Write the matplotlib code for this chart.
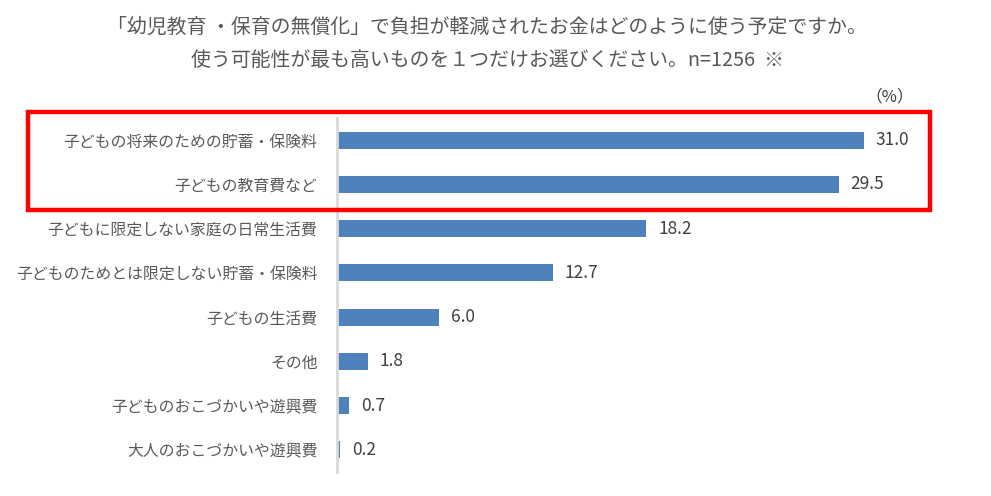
import numpy as np
import matplotlib.pyplot as plt
from matplotlib.patches import Rectangle

plt.rcParams['font.family'] = ['Noto Sans CJK JP', 'DejaVu Sans']

labels = ["子どもの将来のための貯蓄・保険料", "子どもの教育費など", "子どもに限定しない家庭の日常生活費",
          "子どものためとは限定しない貯蓄・保険料", "子どもの生活費", "その他",
          "子どものおこづかいや遊興費", "大人のおこづかいや遊興費"]
values = [31.0, 29.5, 18.2, 12.7, 6.0, 1.8, 0.7, 0.2]

W, H = 991, 496
fig = plt.figure(figsize=(W / 100, H / 100), dpi=100)

# axes placed in pixel terms: left 337, top 118, bottom 472
left, right, top, bottom = 337, 932, 118, 472
ax = fig.add_axes([left / W, 1 - bottom / H, (right - left) / W, (bottom - top) / H])

y = np.arange(len(labels))
ax.barh(y, values, height=0.38, color='#4F81BD')
ax.set_ylim(len(labels) - 0.5, -0.5)
ax.set_xlim(0, (right - left) / 17.0)

for yi, v in zip(y, values):
    ax.text(v + 0.7, yi, f"{v:.1f}", va='center', ha='left', fontsize=12.5, color='#404040')

ax.set_yticks(y)
ax.set_yticklabels(labels, fontsize=11.4, color='#595959')
ax.tick_params(axis='y', length=0, pad=14)
ax.set_xticks([])
for s in ['top', 'right', 'bottom']:
    ax.spines[s].set_visible(False)
ax.spines['left'].set_color('#D9D9D9')
ax.spines['left'].set_linewidth(2)

fig.text(487 / W, 1 - 27 / H, "「幼児教育 ・保育の無償化」で負担が軽減されたお金はどのように使う予定ですか。",
         ha='center', va='center', fontsize=14.3, color='#595959')
fig.text(487 / W, 1 - 60 / H, "使う可能性が最も高いものを１つだけお選びください。n=1256  ※",
         ha='center', va='center', fontsize=14.3, color='#595959')
fig.text(890 / W, 1 - 97 / H, "（%）", ha='center', va='center', fontsize=12, color='#404040')

# red highlight box
fig.patches.append(Rectangle((28 / W, 1 - 210 / H), (930 - 28) / W, (210 - 112) / H,
                             transform=fig.transFigure, fill=False, edgecolor='#FF0000',
                             linewidth=3.2, zorder=5))

fig.savefig("out.png", dpi=100)
